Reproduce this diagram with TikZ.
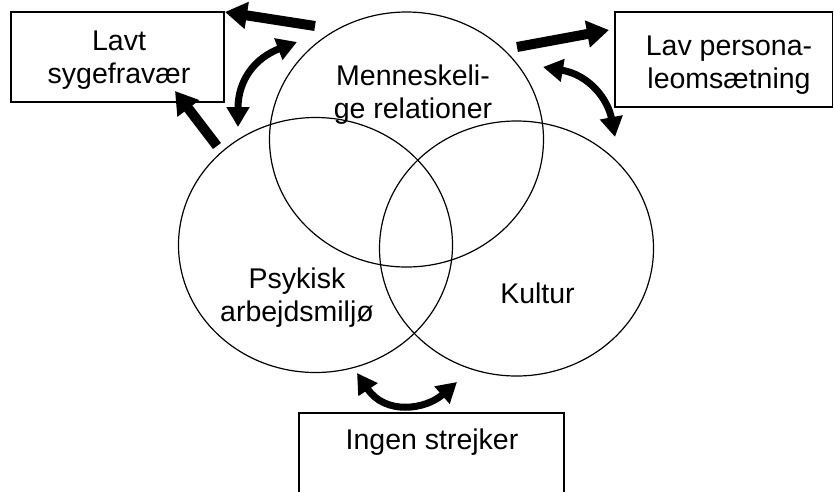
\documentclass[tikz,border=0pt]{standalone}
\usepackage{fontspec}
\setmainfont{Liberation Sans}
\usetikzlibrary{shapes.geometric,arrows.meta}
\begin{document}
\begin{tikzpicture}[x=1pt,y=-1pt,
  ring/.style={ellipse,draw,line width=1.2pt,minimum width=274pt,minimum height=255pt,inner sep=0pt},
  box/.style={draw,line width=1.4pt},
  lbl/.style={font=\fontsize{28.5}{33}\selectfont,align=center,inner sep=0pt,anchor=base},
  bigarrow/.style={line width=10pt,-{Triangle[length=22pt,width=26pt]}},
  bend2/.style={line width=7pt,{Triangle[length=20pt,width=22pt]}-{Triangle[length=20pt,width=22pt]}}]
\clip (0,0) rectangle (834,491);
\fill[white] (0,0) rectangle (834,491);
% circles
\node[ring] (top) at (406.5,139.5) {};
\node[ring] (left) at (315.5,245) {};
\node[ring] (right) at (516.5,248.5) {};
% boxes
\draw[box] (11,12) rectangle (224,102);
\draw[box] (615,12) rectangle (832.5,107);
\draw[box] (299,413) rectangle (564,510);
% labels (base = baseline of last line)
\node[lbl] (tmen) at (413,118) {Menneskeli-\\ge relationer};
\node[lbl] (tpsy) at (297,321) {Psykisk\\arbejdsmiljø};
\node[lbl] (tkul) at (537.5,303) {Kultur};
\node[lbl] (tsyg) at (119,83) {Lavt\\sygefravær};
\node[lbl] (tper) at (729,88) {Lav persona-\\leomsætning};
\node[lbl] (tstr) at (432,449) {Ingen strejker};
% arrow end points
\coordinate (a1s) at (315,26);  \coordinate (a1e) at (225,12);
\coordinate (a2s) at (217,146); \coordinate (a2e) at (175,91);
\coordinate (a3s) at (297,42);  \coordinate (a3e) at (238,127);
\coordinate (a4s) at (517,47);  \coordinate (a4e) at (609,30);
\coordinate (a5s) at (543,67);  \coordinate (a5e) at (615,137);
\coordinate (a6s) at (357,373); \coordinate (a6e) at (457,382);
\draw[bigarrow] (a1s) -- (a1e);
\draw[bigarrow] (a2s) -- (a2e);
\draw[bigarrow] (a4s) -- (a4e);
\draw[bend2] (a3s) .. controls (255,58) and (238,80) .. (a3e);
\draw[bend2] (a5s) .. controls (590,75) and (608,100) .. (a5e);
\draw[bend2] (a6s) .. controls (385,415) and (425,410) .. (a6e);
\end{tikzpicture}
\end{document}
